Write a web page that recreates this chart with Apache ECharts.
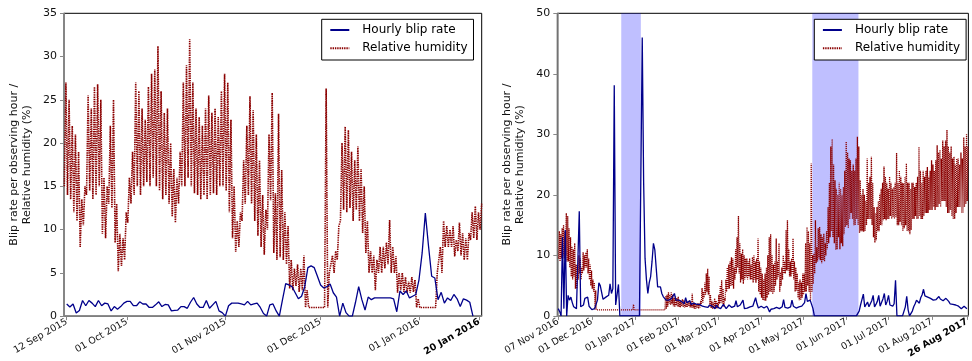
<!DOCTYPE html>
<html>
<head>
<meta charset="utf-8">
<script src="https://cdn.jsdelivr.net/npm/echarts@6/dist/echarts.min.js"></script>
<style>
  html, body { margin: 0; padding: 0; background: #fff; }
  #chart { width: 972px; height: 361px; }
</style>
</head>
<body>
<div id="chart"></div>
<script>
const DAY = 86400000;

// ---- left panel: Sep 2015 - Jan 2016 ----
// relative humidity, daily low / high, first day 11 Sep 2015
const humStart1 = Date.UTC(2015, 8, 11);
const humHigh1 = [
  27, 25, 22, 21, 19, 13.5, 15, 25.5, 24, 26.5, 26.8,
  25, 16, 15, 22, 25, 13, 9.5, 9, 12, 16,
  19, 27, 26, 24, 22.7, 26.5, 28, 28.5, 31.2, 26,
  23.5, 24, 20, 17, 16, 19, 27, 29, 32, 27,
  24, 23, 22, 24, 25.5, 23.5, 24, 23, 26, 28,
  27, 22.7, 15, 11, 12, 18, 22, 25.4, 23.8, 21,
  18, 14, 12.3, 21, 25.8, 14.2, 23.4, 16.9, 12, 10.4,
  6.5, 5.5, 6, 5.5, 7, 3, 1, 1, 1, 1,
  1, 26.3, 5, 7, 7.5, 10.4, 20, 21.9, 21.5, 19,
  18, 19.6, 17, 15, 11, 7.5, 7, 6.5, 8, 8,
  8.5, 11.1, 8, 6.9, 5, 5, 4.5, 4, 4.5, 4.2,
  2, 1, 1, 1, 1, 1, 5, 8, 11, 10.4,
  10, 10.4, 8.8, 10.8, 9.6, 9, 9.6, 12, 12.7, 12, 13
];
const humLow1 = [
  15, 14, 13.5, 12, 11, 8, 10.5, 14, 14.5, 13.5, 14,
  15, 9.5, 9, 13, 12.5, 8.5, 5.2, 5.8, 6.5, 10.8,
  13, 14, 15, 14, 15, 15.5, 15, 16, 15, 14.5,
  13.5, 14, 13, 11.5, 10.8, 13, 15, 15, 16, 15,
  14.2, 14, 13.5, 14, 13.5, 14, 14.2, 14, 15, 15,
  14.5, 12, 9, 7.4, 8, 11, 13, 14, 13, 11,
  9.3, 8, 7.1, 10, 13.4, 7.3, 6.5, 6.8, 6.5, 6,
  3.2, 3, 3.5, 2.8, 3, 1, 1, 1, 1, 1,
  1, 1, 1, 5, 5, 6.5, 11, 12.3, 12, 12.5,
  11, 12.3, 11, 9.6, 7.3, 5, 5, 3, 5, 5,
  5.5, 6, 5, 5, 2.7, 3, 2.8, 2.7, 2.7, 2.8,
  1, 1, 1, 1, 1, 1, 1, 5, 5, 8,
  8, 8, 6.9, 7.5, 7, 6.5, 6.5, 8.8, 9, 8.8, 10
];
// hourly blip rate, one value per day, first day 12 Sep 2015
const rateStart1 = Date.UTC(2015, 8, 12);
const rate1 = [
  1.4, 1.05, 1.4, 0.35, 0.65, 1.8, 1.2, 1.8, 1.5, 1.1,
  1.8, 1.2, 1.5, 1.4, 0.6, 1.1, 0.8, 1.1, 1.5, 1.7,
  1.7, 1.2, 1.2, 1.65, 1.4, 1.4, 1.0, 1.0, 1.3, 1.65,
  1.1, 1.35, 1.3, 0.6, 0.65, 0.7, 1.1, 1.1, 0.9, 1.6,
  2.15, 1.4, 1.0, 1.0, 1.8, 0.9, 1.3, 1.7, 0.6, 0.4,
  0, 1.2, 1.5, 1.5, 1.5, 1.4, 1.3, 1.7, 1.3, 1.4,
  1.5, 1.0, 0.3, 0, 1.3, 1.4, 0.6, 0, 1.9, 3.75,
  3.6, 3.4, 2.7, 2.0, 2.3, 3.4, 5.6, 5.8, 5.6, 4.6,
  3.6, 3.25, 3.4, 3.7, 2.7, 2.2, 0, 1.5, 0.4, 0,
  0, 1.6, 3.4, 1.9, 0.7, 2.2, 1.9, 2.1, 2.1, 2.1,
  2.1, 2.1, 2.1, 2.0, 0.5, 2.9, 2.5, 2.9, 2.1, 2.3,
  2.5, 4.2, 7.3, 11.9, 8.1, 4.6, 4.4, 1.9, 2.75, 1.5,
  2.1, 1.8, 2.5, 2.0, 1.1, 2.0, 1.85, 1.6, 0
];
const ticks1 = [
  Date.UTC(2015, 8, 12), Date.UTC(2015, 9, 1), Date.UTC(2015, 10, 1),
  Date.UTC(2015, 11, 1), Date.UTC(2016, 0, 1), Date.UTC(2016, 0, 20)
];
const xMin1 = Date.UTC(2015, 8, 11, 3, 36);
const xMax1 = Date.UTC(2016, 0, 20, 18, 15);

// ---- right panel: Nov 2016 - Aug 2017 ----
const humStart2 = Date.UTC(2016, 10, 7);
const humHigh2 = [
  14, 13.5, 14.5, 15, 14, 17, 16.5, 14.5, 13, 11.5,
  11, 12, 8.5, 8, 10, 9.5, 8, 10.5, 10, 10.5,
  11, 9.5, 8.5, 7.5, 6, 5.5, 4.2, 1, 1, 1,
  1, 1, 1, 1, 1, 1, 1, 1, 1, 1,
  1, 1, 1, 1, 1, 1, 1, 1, 1, 1,
  1, 1, 1, 1.9, 1, 1, 1, 1, 1, 1,
  1, 1, 1, 1, 1, 1, 1, 1, 1, 1,
  1, 1, 1, 1, 1, 1, 3.3, 3.5, 3.9, 3.5,
  3.9, 3.5, 3, 3.2, 2.9, 3.2, 2.7, 2.5, 2.8, 2.6,
  2.4, 2.5, 2.3, 2.6, 2.2, 3.7, 2.2, 2, 1.8, 2.1,
  2, 2.5, 4.6, 4, 5.5, 7, 7.8, 6.5, 3.5, 2.5,
  2.2, 2.9, 2.5, 2.2, 3.5, 5, 5.9, 4.5, 3, 6,
  8, 8.5, 9, 9.7, 9.5, 8, 11, 13, 16.5, 12,
  10.3, 11, 10, 9.5, 9.5, 9, 9.5, 8.5, 9.7, 10,
  9, 9.5, 12.8, 9, 8, 7, 6, 7, 8, 10,
  13, 13.5, 10, 8.5, 9, 12.8, 9, 12, 7.2, 8,
  10, 9, 14.2, 15.8, 11, 9, 9.5, 12.8, 9, 8,
  7, 5.5, 6, 5.5, 7, 7, 12, 14.7, 14, 12,
  25.2, 10, 10.3, 15.8, 11.4, 14.5, 14.7, 13.5, 13, 13.6,
  12, 14, 18, 22, 28, 29.2, 25, 22.4, 21, 20,
  22, 21, 20, 21.3, 24, 28.8, 27, 26, 25.7, 24,
  25, 24, 26, 29.6, 28, 22.4, 20, 21, 20, 19,
  26, 22, 23, 26.3, 22, 18, 17, 18, 19, 20.2,
  21, 22, 24.7, 23, 22, 21, 23, 22, 21, 21.3,
  22, 26.9, 22, 24, 23, 22, 21.9, 23, 25.2, 22,
  22, 21, 22, 22, 21.3, 22, 23, 27.9, 24, 22,
  24, 23, 24, 24.6, 23, 24, 25.7, 25, 24, 25.7,
  28.2, 27, 27.4, 26, 29, 28, 29, 30.7, 28, 27,
  28, 26, 26.3, 25, 26, 26, 25, 27, 26, 29.5,
  28, 30, 28
];
const humLow2 = [
  9.5, 9, 9.5, 10, 9.5, 10, 9, 9, 8, 6.5,
  6, 6.5, 4.5, 4.5, 6, 7, 6, 7, 7.5, 8,
  8, 7, 6, 5, 4.5, 4, 1, 1, 1, 1,
  1, 1, 1, 1, 1, 1, 1, 1, 1, 1,
  1, 1, 1, 1, 1, 1, 1, 1, 1, 1,
  1, 1, 1, 1, 1, 1, 1, 1, 1, 1,
  1, 1, 1, 1, 1, 1, 1, 1, 1, 1,
  1, 1, 1, 1, 1, 1, 1, 1.2, 1.5, 2,
  1.8, 2, 1.6, 1.5, 1.7, 1.5, 1.5, 1.4, 1.6, 1.5,
  1.4, 1.5, 1.5, 1.6, 1.4, 1.4, 1.3, 1.2, 1.2, 1.3,
  1.2, 1.4, 2, 2.2, 3, 3.5, 4, 3.5, 1.5, 1.3,
  1.2, 1.3, 1.2, 1.2, 1.5, 2, 2.2, 2, 1.5, 2.5,
  4, 4.5, 4.5, 5, 5, 4.5, 6, 7, 8, 7,
  5.5, 6, 5.3, 6, 6.4, 6, 6.5, 6, 6, 5.5,
  6, 5.5, 6, 4, 3.5, 3, 2.6, 2.5, 2.5, 3,
  3.5, 4, 4, 3.6, 4, 5, 6, 6.5, 4, 5,
  6, 7, 7, 7.5, 7.5, 6.5, 6.5, 7, 6, 4,
  4.2, 3, 2.6, 2.6, 3, 3.5, 4, 4, 5, 4,
  2.6, 4, 5.3, 7, 8.7, 9, 9.5, 9.2, 8.7, 9.2,
  9, 10, 11, 12, 13, 14, 13, 12, 10.9, 11,
  13, 11, 12, 11.5, 13.5, 14.7, 15, 14.5, 16, 17,
  16, 15, 15, 16, 15, 13.7, 14, 14, 13.9, 14,
  15, 16, 16, 16, 15, 13, 12.1, 12.5, 14, 14,
  15, 15, 15.8, 16, 15.8, 16, 16, 16.5, 16, 16.4,
  16, 16.4, 15, 15, 15.5, 15, 14, 14.5, 15, 14,
  14, 13.5, 14.2, 16, 16, 16.5, 16, 16, 16.5, 16,
  16, 16.5, 17, 17, 17, 17.5, 17.5, 17.5, 18, 17.5,
  18, 18, 18.5, 18, 19, 19, 19, 18, 17, 17,
  17.5, 16.5, 16, 16, 17, 18, 18, 18, 17, 17,
  18, 18.5, 19
];
const rateStart2 = Date.UTC(2016, 10, 7);
const rate2 = [
  1.2, 0.7, 0, 13, 1.2, 14.2, 0, 3.4, 2.6, 3.1,
  2.2, 1.5, 1.8, 1.2, 0.9, 17.3, 1.5, 1.2, 1.8, 2.9,
  3.0, 3.1, 1.6, 1.4, 1.05, 1.1, 1.2, 1.5, 2.6, 5.45,
  5.0, 4.8, 2.75, 2.9, 3.1, 3.3, 3.4, 5.3, 3.7, 4.5,
  38.1, 1.8, 1.5, 5.2, 0, 0, 0, 0, 0, 0,
  0, 0, 0, 0, 0, 0, 0, 0, 0, 0,
  46, 22, 9.5, 6, 3.7, 5.5, 6.5, 9, 12, 10.9,
  10.9, 4.8, 4.8, 4.8, 3.7, 3.2, 3.0, 2.6, 2.3, 2.6,
  2.4, 2.9, 3.3, 3.7, 2.6, 2.3, 2.6, 2.9, 2.4, 2.2,
  2.0, 3.0, 2.2, 2.0, 2.5, 1.9, 1.8, 2.1, 2.3, 1.9,
  1.6, 1.9, 1.7, 1.6, 1.8, 1.5, 1.7, 1.4, 1.8, 1.5,
  1.6, 1.3, 1.2, 1.8, 1.4, 1.6, 1.2, 1.4, 1.9, 1.6,
  1.2, 1.3, 1.8, 1.5, 1.4, 1.2, 1.6, 2.5, 1.5, 1.4,
  1.8, 1.6, 2.6, 1.2, 1.5, 1.3, 1.6, 1.5, 1.4, 1.6,
  1.5, 3.0, 2.0, 1.3, 1.6, 1.6, 1.4, 1.3, 1.5, 1.6,
  1.2, 0.66, 1.1, 1.3, 1.2, 1.5, 1.4, 1.5, 1.2, 1.1,
  1.5, 2.7, 1.4, 1.5, 1.3, 1.2, 1.5, 2.6, 1.6, 1.5,
  1.3, 1.2, 1.5, 1.4, 1.6, 1.5, 2.2, 3.7, 2.4, 2.3,
  2.6, 2.6, 1.2, 0, 0, 0, 0, 0, 0, 0,
  0, 0, 0, 0, 0, 0, 0, 0, 0, 0,
  0, 0, 0, 0, 0, 0, 0, 0, 0, 0,
  0, 0, 0, 0, 0, 0.8, 1.8, 2.0, 3.6, 1.5,
  1.8, 2.3, 1.5, 1.2, 2.5, 3.4, 1.5, 1.9, 2.4, 3.4,
  1.6, 2.2, 2.8, 3.7, 1.8, 2.4, 3.4, 1.8, 1.7, 1.6,
  2.0, 5.9, 0, 0, 0, 0, 0, 0, 1.5, 3.25,
  1.0, 0, 0, 0.8, 1.5, 2.0, 2.6, 2.3, 2.1, 3.0,
  3.5, 4.4, 3.3, 3.0, 3.1, 3.0, 2.9, 3.0, 2.6, 2.9,
  2.7, 2.5, 3.2, 2.8, 3.0, 2.5, 2.7, 2.9, 3.1, 2.4,
  2.0, 2.0, 1.9, 1.7, 1.8, 1.5, 1.6, 1.5, 1.2, 1.2,
  1.6, 1.4, 1.2
];
const ticks2 = [
  Date.UTC(2016, 10, 7), Date.UTC(2016, 11, 1), Date.UTC(2017, 0, 1),
  Date.UTC(2017, 1, 1), Date.UTC(2017, 2, 1), Date.UTC(2017, 3, 1),
  Date.UTC(2017, 4, 1), Date.UTC(2017, 5, 1), Date.UTC(2017, 6, 1),
  Date.UTC(2017, 7, 1), Date.UTC(2017, 7, 26)
];
// periods shaded in blue
const shaded2 = [
  [Date.UTC(2016, 11, 22), Date.UTC(2017, 0, 5)],
  [Date.UTC(2017, 4, 7, 12), Date.UTC(2017, 5, 9, 12)]
];
const xMin2 = Date.UTC(2016, 10, 6, 7, 10);
const xMax2 = Date.UTC(2017, 7, 27, 1, 0);

const MONTHS = ['Jan','Feb','Mar','Apr','May','Jun','Jul','Aug','Sep','Oct','Nov','Dec'];
const FONT = 'DejaVu Sans';

function humidityPoints(start, low, high) {
  const out = [];
  for (let i = 0; i < low.length; i++) {
    const t = start + i * DAY;
    out.push([t + 0.25 * DAY, low[i]], [t + 0.75 * DAY, high[i]]);
  }
  return out;
}
function dailyPoints(start, vals) {
  return vals.map((v, i) => [start + i * DAY, v]);
}
function dateLabel(lastTick) {
  return function (v) {
    const d = new Date(v);
    const s = String(d.getUTCDate()).padStart(2, '0') + ' ' + MONTHS[d.getUTCMonth()] + ' ' + d.getUTCFullYear();
    return v === lastTick ? '{b|' + s + '}' : s;
  };
}

function xAxisFor(idx, ticks, min, max) {
  return {
    type: 'value', gridIndex: idx, min: min, max: max,
    axisLine: { show: true, onZero: false, lineStyle: { color: '#888', width: 1.5 } },
    axisTick: { show: true, length: 4, customValues: ticks, lineStyle: { color: '#888' } },
    splitLine: { show: false },
    axisLabel: {
      customValues: ticks, rotate: 30, margin: 5,
      fontFamily: FONT, fontSize: 9.5, color: '#111',
      formatter: dateLabel(ticks[ticks.length - 1]),
      rich: { b: { fontFamily: FONT, fontSize: 9.5, fontWeight: 'bold', color: '#000' } }
    }
  };
}
function yAxisFor(idx, max, step) {
  return {
    type: 'value', gridIndex: idx, min: 0, max: max, interval: step,
    name: 'Blip rate per observing hour /\nRelative humidity (%)',
    nameLocation: 'middle', nameGap: 31, nameRotate: 90,
    nameTextStyle: { fontFamily: FONT, fontSize: 11, lineHeight: 12.5, color: '#111' },
    axisLine: { show: true, lineStyle: { color: '#888', width: 1.5 } },
    axisTick: { show: true, length: 4, lineStyle: { color: '#888' } },
    splitLine: { show: false },
    axisLabel: { margin: 7, fontFamily: FONT, fontSize: 11, color: '#111' }
  };
}
function legendAt(left) {
  return {
    left: left, top: 19.3, orient: 'vertical',
    data: ['Hourly blip rate', 'Relative humidity'],
    itemWidth: 19, itemHeight: 12, itemGap: 4.3,
    padding: [3.7, 6, 4.7, 7.6],
    borderColor: '#000', borderWidth: 1, borderRadius: 0,
    backgroundColor: '#fff',
    itemStyle: { opacity: 0 },
    textStyle: { fontFamily: FONT, fontSize: 12, lineHeight: 14, color: '#000', padding: [0, 0, 0, 8] },
    selectedMode: false
  };
}

const humColor = '#8b0000';
const rateColor = '#00008b';

const option = {
  animation: false,
  backgroundColor: '#fff',
  grid: [
    { left: 64, top: 13.3, width: 417.7, height: 302.8, show: true, borderColor: '#000', borderWidth: 1, backgroundColor: 'transparent' },
    { left: 557.3, top: 13.3, width: 418, height: 302.6, show: true, borderColor: '#000', borderWidth: 1, backgroundColor: 'transparent' }
  ],
  xAxis: [xAxisFor(0, ticks1, xMin1, xMax1), xAxisFor(1, ticks2, xMin2, xMax2)],
  yAxis: [yAxisFor(0, 35, 5), yAxisFor(1, 50, 10)],
  legend: [legendAt(321.7), legendAt(814.3)],
  series: [
    {
      name: 'Relative humidity', type: 'line', xAxisIndex: 0, yAxisIndex: 0, z: 2,
      data: humidityPoints(humStart1, humLow1, humHigh1),
      symbol: 'none', showSymbol: false,
      lineStyle: { color: humColor, width: 1.6, type: [1.4, 0.9] },
      itemStyle: { color: humColor }
    },
    {
      name: 'Hourly blip rate', type: 'line', xAxisIndex: 0, yAxisIndex: 0, z: 3,
      data: dailyPoints(rateStart1, rate1),
      symbol: 'none', showSymbol: false,
      lineStyle: { color: rateColor, width: 1.3 },
      itemStyle: { color: rateColor }
    },
    {
      name: 'Relative humidity', type: 'line', xAxisIndex: 1, yAxisIndex: 1, z: 2,
      data: humidityPoints(humStart2, humLow2, humHigh2),
      symbol: 'none', showSymbol: false,
      lineStyle: { color: humColor, width: 1.3, type: [1.1, 0.9] },
      itemStyle: { color: humColor },
      markArea: {
        silent: true,
        itemStyle: { color: 'rgba(0,0,255,0.25)' },
        data: shaded2.map(p => [{ xAxis: p[0] }, { xAxis: p[1] }])
      }
    },
    {
      name: 'Hourly blip rate', type: 'line', xAxisIndex: 1, yAxisIndex: 1, z: 3,
      data: dailyPoints(rateStart2, rate2),
      symbol: 'none', showSymbol: false,
      lineStyle: { color: rateColor, width: 1.3 },
      itemStyle: { color: rateColor }
    }
  ]
};

const myChart = echarts.init(document.getElementById('chart'), null, { renderer: 'canvas' });
myChart.setOption(option);
window.addEventListener('resize', () => myChart.resize());
</script>
</body>
</html>
